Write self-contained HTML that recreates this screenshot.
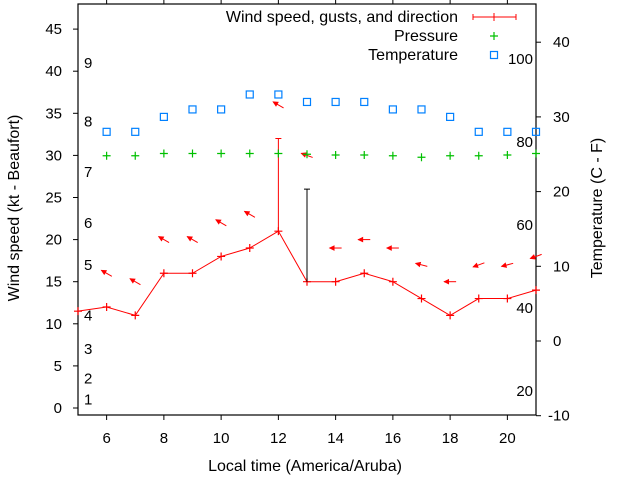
<!DOCTYPE html>
<html><head><meta charset="utf-8"><style>
body{margin:0;background:#fff;}
svg{display:block;font-family:"Liberation Sans",sans-serif;}
</style></head><body>
<svg id="chart" width="640" height="480" viewBox="0 0 640 480" xmlns="http://www.w3.org/2000/svg">
<g id="axes"></g>
<g id="marks"></g>
<g id="legend"></g>
</svg>
<script>
const hours = [5,6,7,8,9,10,11,12,13,14,15,16,17,18,19,20,21];
const windSpeed = [11.5,12,11,16,16,18,19,21,15,15,16,15,13,11,13,13,14];
const gustHours = [12,13];
const gustValues = [32,26];
const arrowLevel = [null,16,15,20,20,22,23,36,30,19,20,19,17,15,17,17,18];
const arrowAngle = [null,150,150,150,150,150,150,150,160,180,180,180,165,180,200,195,200];
const pressure = [null,24.8,24.8,25.1,25.1,25.1,25.1,25.1,25.0,24.9,24.9,24.8,24.6,24.8,24.8,24.9,25.1];
const temperature = [null,28,28,30,31,31,33,33,32,32,32,31,31,30,28,28,28];
const xTicks = [6,8,10,12,14,16,18,20];
const yLeftTicks = [0,5,10,15,20,25,30,35,40,45];
const yRightTicks = [-10,0,10,20,30,40];
const beaufortLabels = ["1","2","3","4","5","6","7","8","9"];
const beaufortKt = [1,3.5,7,11,17,22,28,34,41];
const fahrenheitLabels = ["20","40","60","80","100"];
const fahrenheitVals = [20,40,60,80,100];

const L=78,R=536,T=4,B=415;
const x = h => L + (h-5)*(R-L)/16;
const yl = v => 408 - v*8.42;
const yr = v => 341 - v*7.47;
const NS="http://www.w3.org/2000/svg";
function mk(tag, attrs, parent, txt){const e=document.createElementNS(NS,tag);for(const k in attrs)e.setAttribute(k,attrs[k]);if(txt!==undefined)e.textContent=txt;parent.appendChild(e);return e;}
const ax=document.getElementById('axes'), mg=document.getElementById('marks'), lg=document.getElementById('legend');

let fr=mk('rect',{x:L,y:T,width:R-L,height:B-T,fill:'none',stroke:'#000','stroke-width':1.2},ax);


xTicks.forEach(h=>{
  mk('line',{x1:x(h),x2:x(h),y1:B,y2:B+5,stroke:'#000'},ax);
  mk('line',{x1:x(h),x2:x(h),y1:T,y2:T-5,stroke:'#000'},ax);
  let t=mk('text',{x:x(h),y:443,'font-size':15,'text-anchor':'middle',fill:'#000'},ax,String(h));
  
  
});
yLeftTicks.forEach(v=>{
  mk('line',{x1:L-5,x2:L,y1:yl(v),y2:yl(v),stroke:'#000'},ax);
  let t=mk('text',{x:62,y:yl(v)+5,'font-size':15,'text-anchor':'end',fill:'#000'},ax,String(v));
  
  
});
yRightTicks.forEach(v=>{
  mk('line',{x1:R,x2:R+5,y1:yr(v),y2:yr(v),stroke:'#000'},ax);
  let t=mk('text',{x:v<0?548:553,y:yr(v)+5,'font-size':15,'text-anchor':'start',fill:'#000'},ax,String(v));
  
  
});
beaufortLabels.forEach((s,i)=>{
  let t=mk('text',{x:84,y:yl(beaufortKt[i])+5,'font-size':15,fill:'#000'},ax,s);
  
  
});
fahrenheitLabels.forEach((s,i)=>{
  let c=(fahrenheitVals[i]-32)*5/9;
  let t=mk('text',{x:533,y:yr(c)+5,'font-size':15,'text-anchor':'end',fill:'#000'},ax,s);
  
  
});
let xt=mk('text',{x:305,y:471,'font-size':16,'text-anchor':'middle',fill:'#000'},ax,'Local time (America/Aruba)');


let ylt=mk('text',{x:0,y:0,'font-size':16,'text-anchor':'middle',fill:'#000',transform:'translate(19,208) rotate(-90)'},ax,'Wind speed (kt - Beaufort)');


let yrt=mk('text',{x:0,y:0,'font-size':16,'text-anchor':'middle',fill:'#000',transform:'translate(602,208) rotate(-90)'},ax,'Temperature (C - F)');



function plus(cx,cy,col,parent,name){
  let g=mk('path',{d:`M${cx-4},${cy}H${cx+4}M${cx},${cy-4}V${cy+4}`,stroke:col,'stroke-width':1.2,fill:'none'},parent);
  
  
}
let pts=hours.map((h,i)=>x(h)+','+yl(windSpeed[i])).join(' ');
let wl=mk('polyline',{points:pts,fill:'none',stroke:'#f00','stroke-width':1},mg);


hours.forEach((h,i)=>plus(x(h),yl(windSpeed[i]),'#f00',mg,'wind-speed-point'));
gustHours.forEach((h,j)=>{
  let i=hours.indexOf(h);
  let g=mk('path',{d:`M${x(h)},${yl(windSpeed[i])}V${yl(gustValues[j])}M${x(h)-3},${yl(gustValues[j])}H${x(h)+3}`,stroke:h===12?'#f00':'#000','stroke-width':1,fill:'none'},mg);
  
  
});
hours.forEach((h,i)=>{
  if(arrowLevel[i]==null)return;
  const a=arrowAngle[i]*Math.PI/180, len=12;
  const cx=x(h), cy=yl(arrowLevel[i]);
  const dx=Math.cos(a)*len/2, dy=-Math.sin(a)*len/2;
  const tx=cx+dx, ty=cy+dy, sx=cx-dx, sy=cy-dy;
  const hl=5, hw=0.45;
  const b1x=tx-hl*Math.cos(a-hw), b1y=ty+hl*Math.sin(a-hw);
  const b2x=tx-hl*Math.cos(a+hw), b2y=ty+hl*Math.sin(a+hw);
  let g=mk('g',{},mg);
  
  
  mk('line',{x1:sx,y1:sy,x2:tx,y2:ty,stroke:'#f00','stroke-width':1},g);
  mk('polygon',{points:`${tx},${ty} ${b1x},${b1y} ${b2x},${b2y}`,fill:'#f00',stroke:'#f00','stroke-width':0.8},g);
});
hours.forEach((h,i)=>{ if(pressure[i]!=null) plus(x(h),yr(pressure[i]),'#00c000',mg,'pressure-point'); });
hours.forEach((h,i)=>{
  if(temperature[i]==null)return;
  let r=mk('rect',{x:x(h)-3.5,y:yr(temperature[i])-3.5,width:7,height:7,fill:'none',stroke:'#0080ff','stroke-width':1.2},mg);
  
  
});
[['Wind speed, gusts, and direction',17],['Pressure',36],['Temperature',55]].forEach(([s,yy])=>{
  let t=mk('text',{x:458,y:yy+5,'font-size':16,'text-anchor':'end',fill:'#000'},lg,s);
  
  
});
let ls=mk('path',{d:'M473,17H516M473,14V20M516,14V20M494,13V21',stroke:'#f00','stroke-width':1,fill:'none'},lg);


plus(494,36,'#00c000',lg,'legend-pressure-swatch');
let lr=mk('rect',{x:490.5,y:51.5,width:7,height:7,fill:'none',stroke:'#0080ff','stroke-width':1.2},lg);


</script>
</body></html>
